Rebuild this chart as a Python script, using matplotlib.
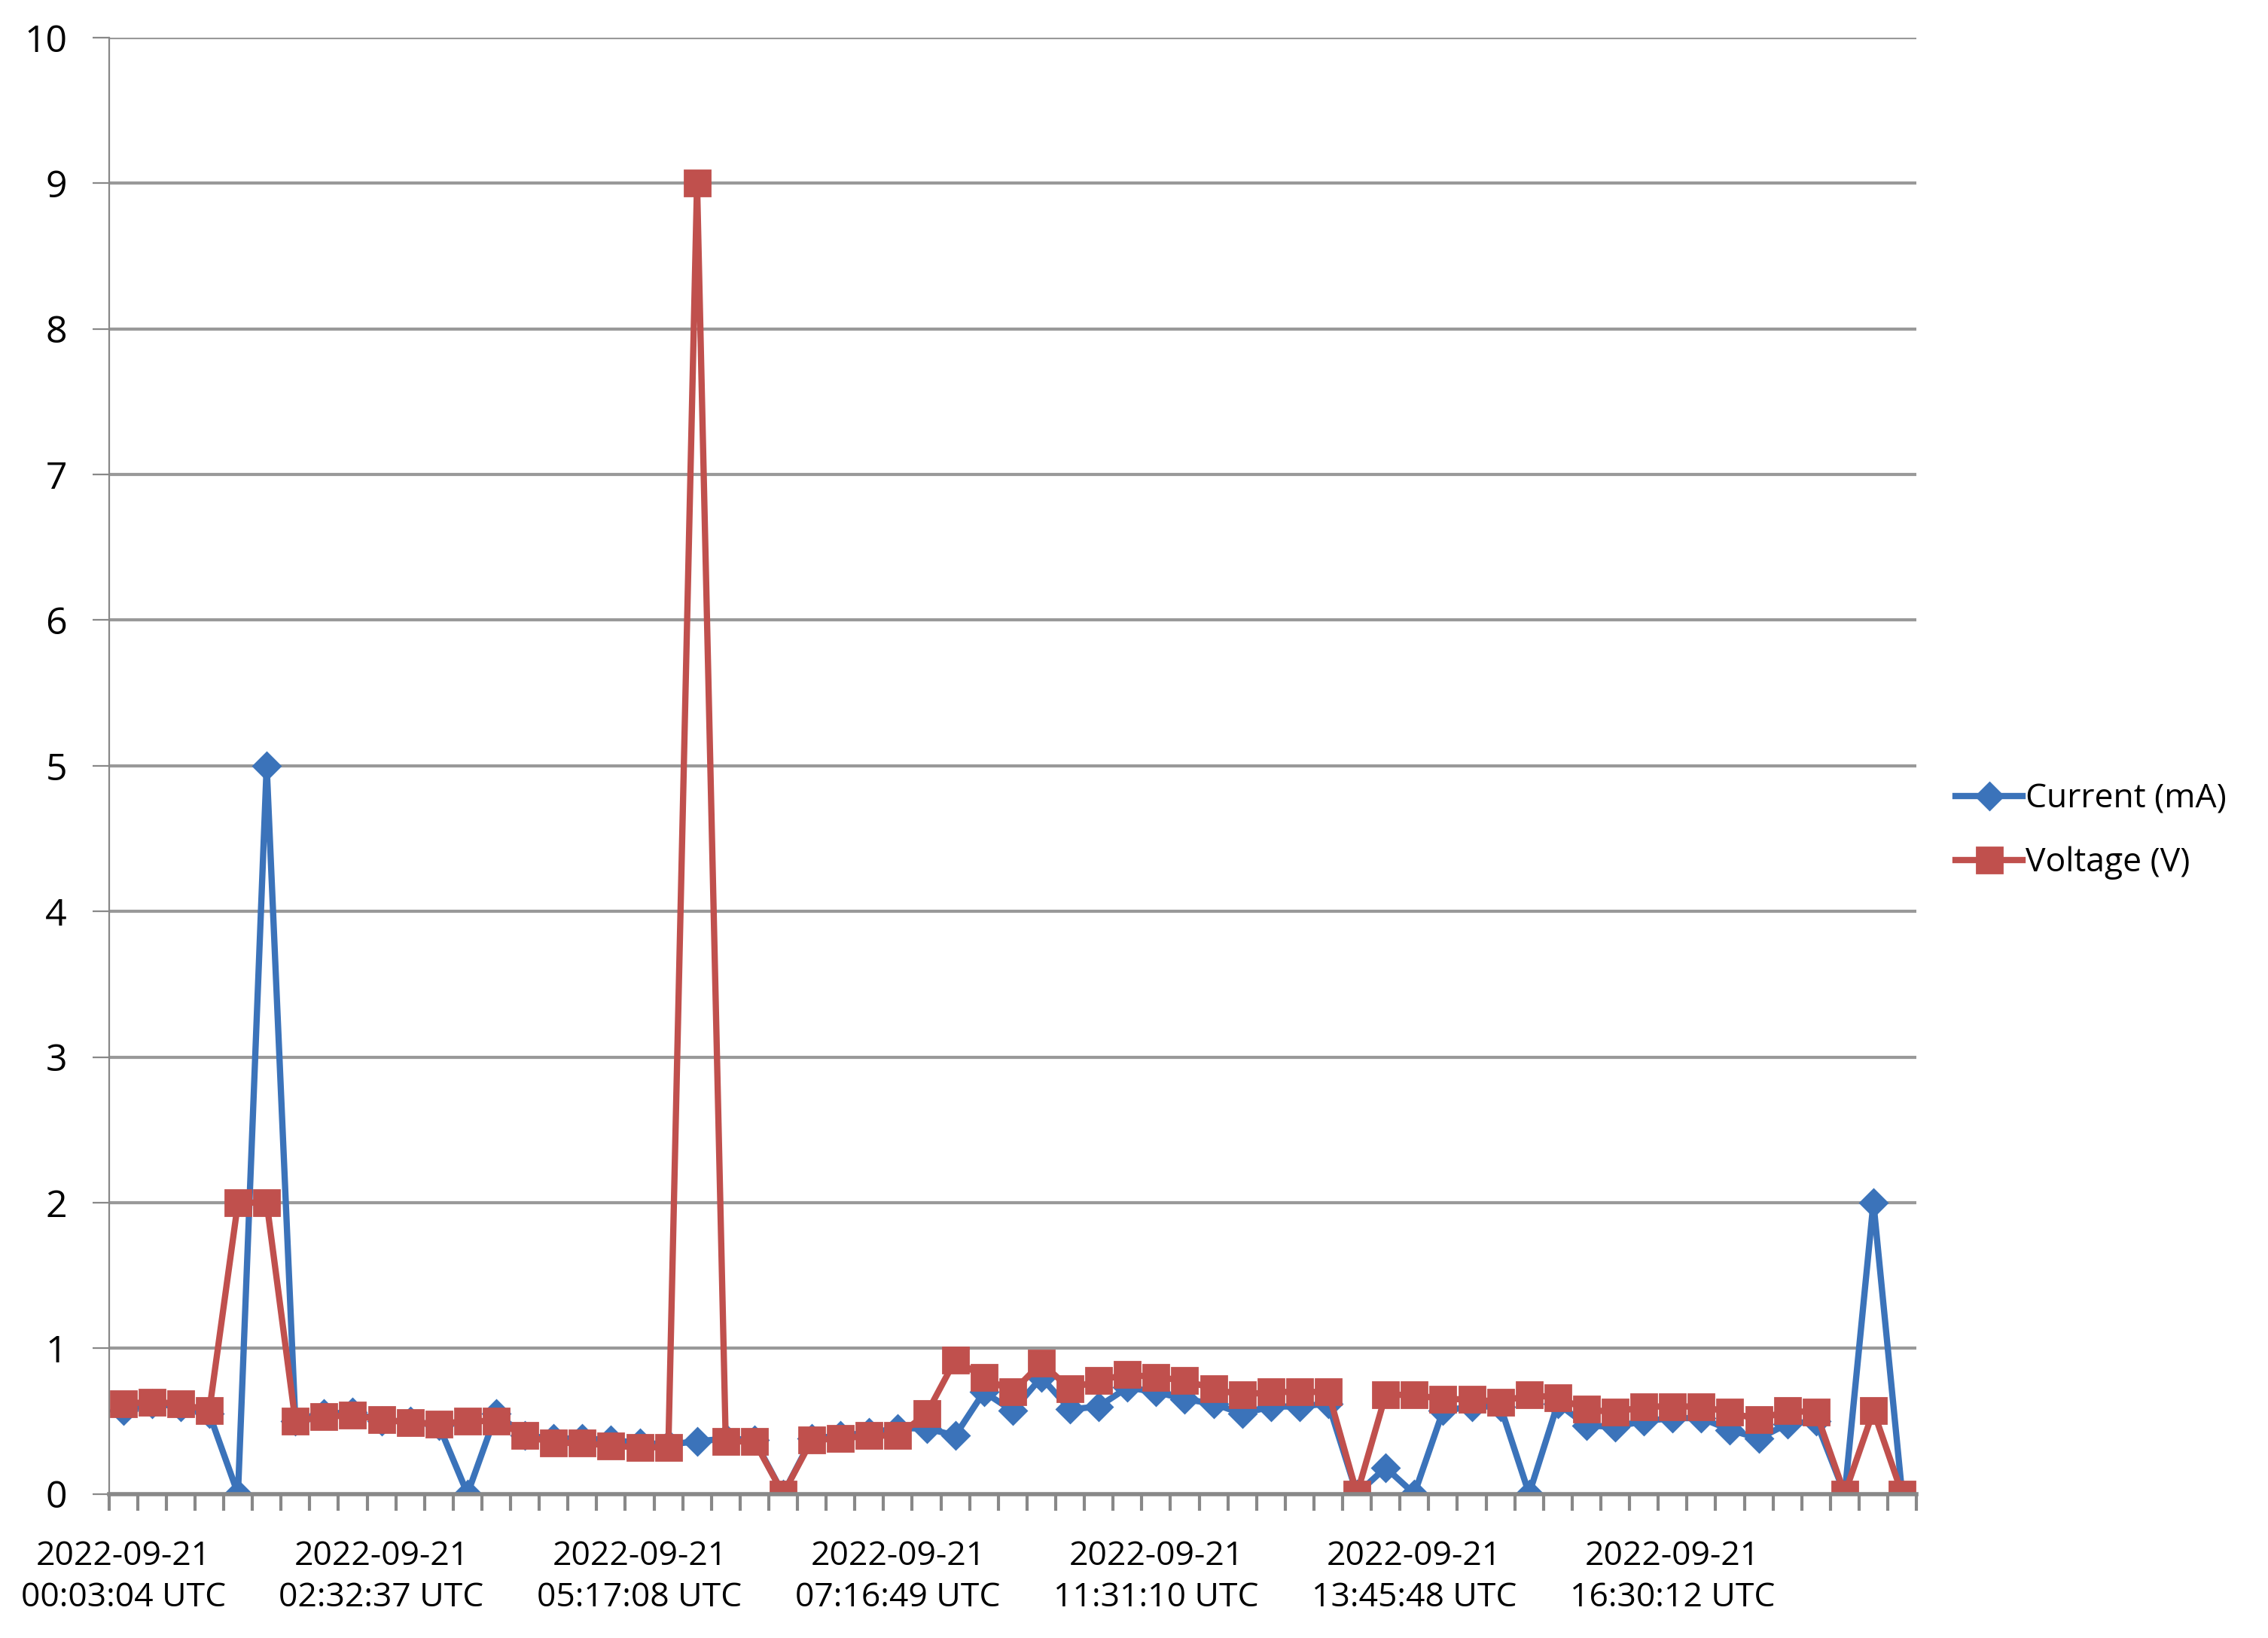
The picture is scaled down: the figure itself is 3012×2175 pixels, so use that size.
import matplotlib
matplotlib.use("Agg")
from matplotlib import pyplot as plt
import numpy as np

plt.rcParams['font.family'] = ['Open Sans', 'DejaVu Sans']

# Data (63 readings)
current_ma = [0.57, 0.62, 0.6, 0.55, 0.0, 5.0, 0.5, 0.55, 0.56, 0.5, 0.5, 0.47, 0.0,
              0.55, 0.4, 0.38, 0.38, 0.37, 0.35, 0.34, 0.36, 0.38, 0.37, 0.0, 0.38,
              0.4, 0.42, 0.45, 0.45, 0.4, 0.7, 0.57, 0.8, 0.58, 0.6, 0.73, 0.7, 0.65,
              0.62, 0.55, 0.6, 0.6, 0.62, 0.0, 0.18, 0.0, 0.57, 0.6, 0.6, 0.0, 0.62,
              0.47, 0.46, 0.5, 0.52, 0.52, 0.44, 0.38, 0.48, 0.5, 0.0, 2.0, 0.0]
voltage_v = [0.62, 0.63, 0.62, 0.57, 2.0, 2.0, 0.5, 0.53, 0.54, 0.51, 0.49, 0.48, 0.5,
             0.5, 0.4, 0.35, 0.35, 0.33, 0.32, 0.32, 9.0, 0.36, 0.36, 0.0, 0.37,
             0.38, 0.4, 0.4, 0.55, 0.92, 0.8, 0.7, 0.9, 0.72, 0.78, 0.82, 0.8, 0.78,
             0.72, 0.68, 0.7, 0.7, 0.7, 0.0, 0.68, 0.68, 0.65, 0.65, 0.63, 0.68, 0.66,
             0.58, 0.56, 0.6, 0.6, 0.6, 0.56, 0.51, 0.57, 0.56, 0.0, 0.57, 0.0]
tick_labels = ["2022-09-21\n00:03:04 UTC", "2022-09-21\n02:32:37 UTC",
               "2022-09-21\n05:17:08 UTC", "2022-09-21\n07:16:49 UTC",
               "2022-09-21\n11:31:10 UTC", "2022-09-21\n13:45:48 UTC",
               "2022-09-21\n16:30:12 UTC"]
label_step = 9

fig = plt.figure(figsize=(15.06, 10.875), dpi=200)
ax = fig.add_axes([0.048, 0.088, 0.797, 0.889])

x = np.arange(len(current_ma))
ax.plot(x, current_ma, color="#3B73BA", lw=3, marker="D", ms=9, label="Current (mA)")
ax.plot(x, voltage_v, color="#C0504D", lw=3, marker="s", ms=12, label="Voltage (V)")

ax.set_xlim(-0.5, len(x) - 0.5)
ax.set_ylim(0, 10)
ax.set_yticks(range(0, 11))
ax.grid(axis="y", color="#999999", lw=1.5)
ax.set_axisbelow(True)
for s in ["top", "right"]:
    ax.spines[s].set_visible(False)
ax.spines["left"].set_color("#888888")
ax.spines["bottom"].set_color("#888888")
ax.spines["bottom"].set_linewidth(2)

ax.set_xticks(x[::label_step])
ax.set_xticklabels(tick_labels, fontsize=16, linespacing=1.3)
ax.set_xticks(np.arange(-0.5, len(x), 1), minor=True)
ax.tick_params(axis="x", which="major", length=0, pad=22)
ax.tick_params(axis="x", which="minor", length=8, color="#888888", width=1.5)
ax.tick_params(axis="y", labelsize=18, length=8, color="#888888", pad=12)

ax.legend(loc="center left", bbox_to_anchor=(1.005, 0.455), frameon=False,
          fontsize=16, handlelength=2, handletextpad=0.1, labelspacing=0.9)

fig.savefig("out.png", dpi=200)
